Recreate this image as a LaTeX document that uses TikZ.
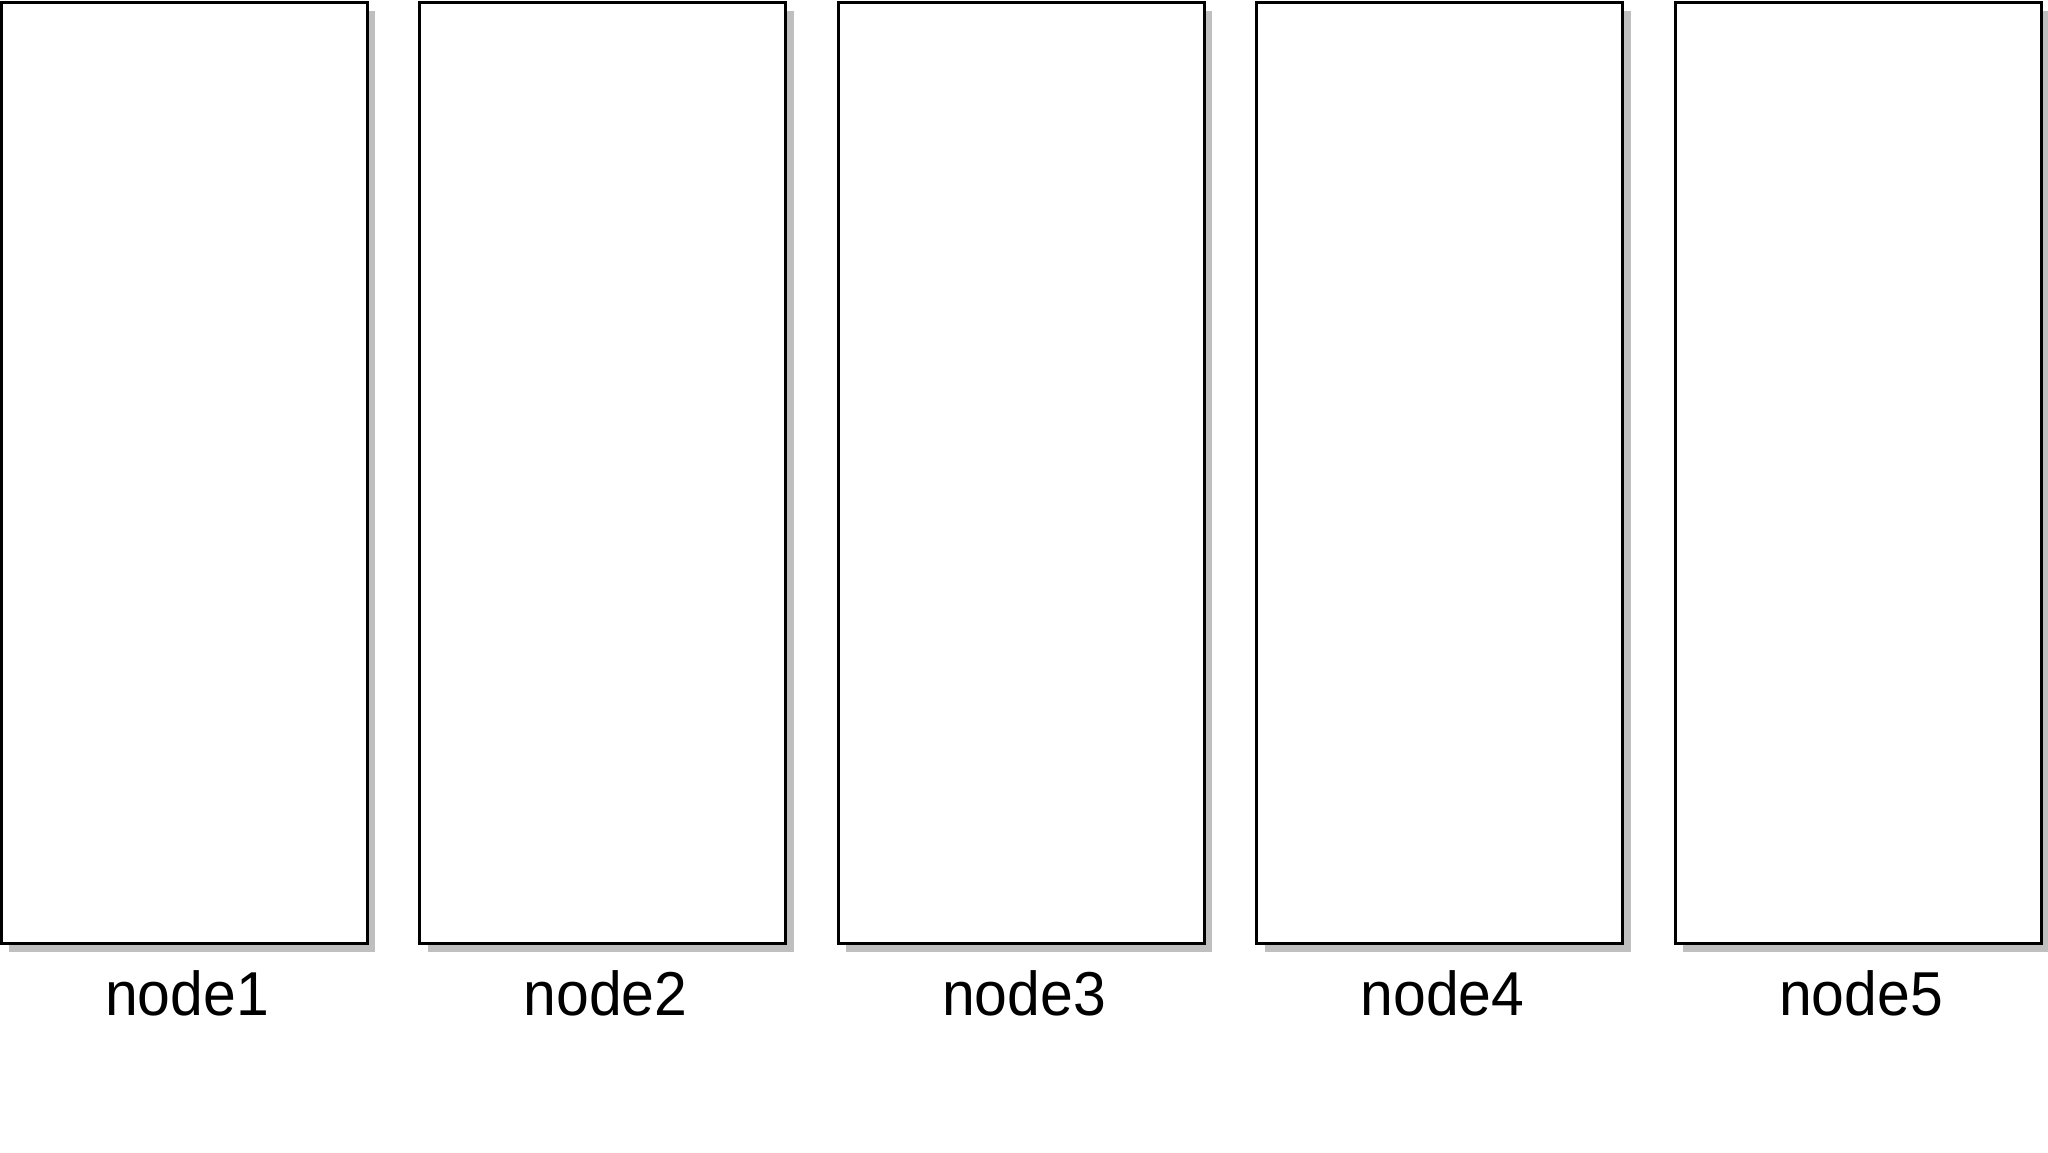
\documentclass[tikz,border=0pt]{standalone}
\usepackage{fontspec}
\setmainfont{Liberation Sans}
\usetikzlibrary{shadows}
\begin{document}
\begin{tikzpicture}[x=0.5pt,y=-0.5pt,
  colbox/.style={draw=black, line width=1.5pt, fill=white, inner sep=0pt, outer sep=0pt,
    minimum width=183pt, minimum height=470.5pt,
    drop shadow={shadow xshift=4pt, shadow yshift=-4.5pt, fill=black!25, opacity=1}},
  collabel/.style={anchor=base, inner sep=0pt, xscale=0.95, font=\fontsize{31}{36}\selectfont}]
\useasboundingbox (0,0) rectangle (2048,1152);
\foreach \i/\t in {1/node1,2/node2,3/node3,4/node4,5/node5}{
  \pgfmathsetmacro{\cx}{1+418.5*(\i-1)+183}
  \node[colbox] (b\i) at (\cx,472.5) {};
  \node[collabel] (l\i) at (\cx+3,1015) {\t};
}
\end{tikzpicture}
\end{document}
